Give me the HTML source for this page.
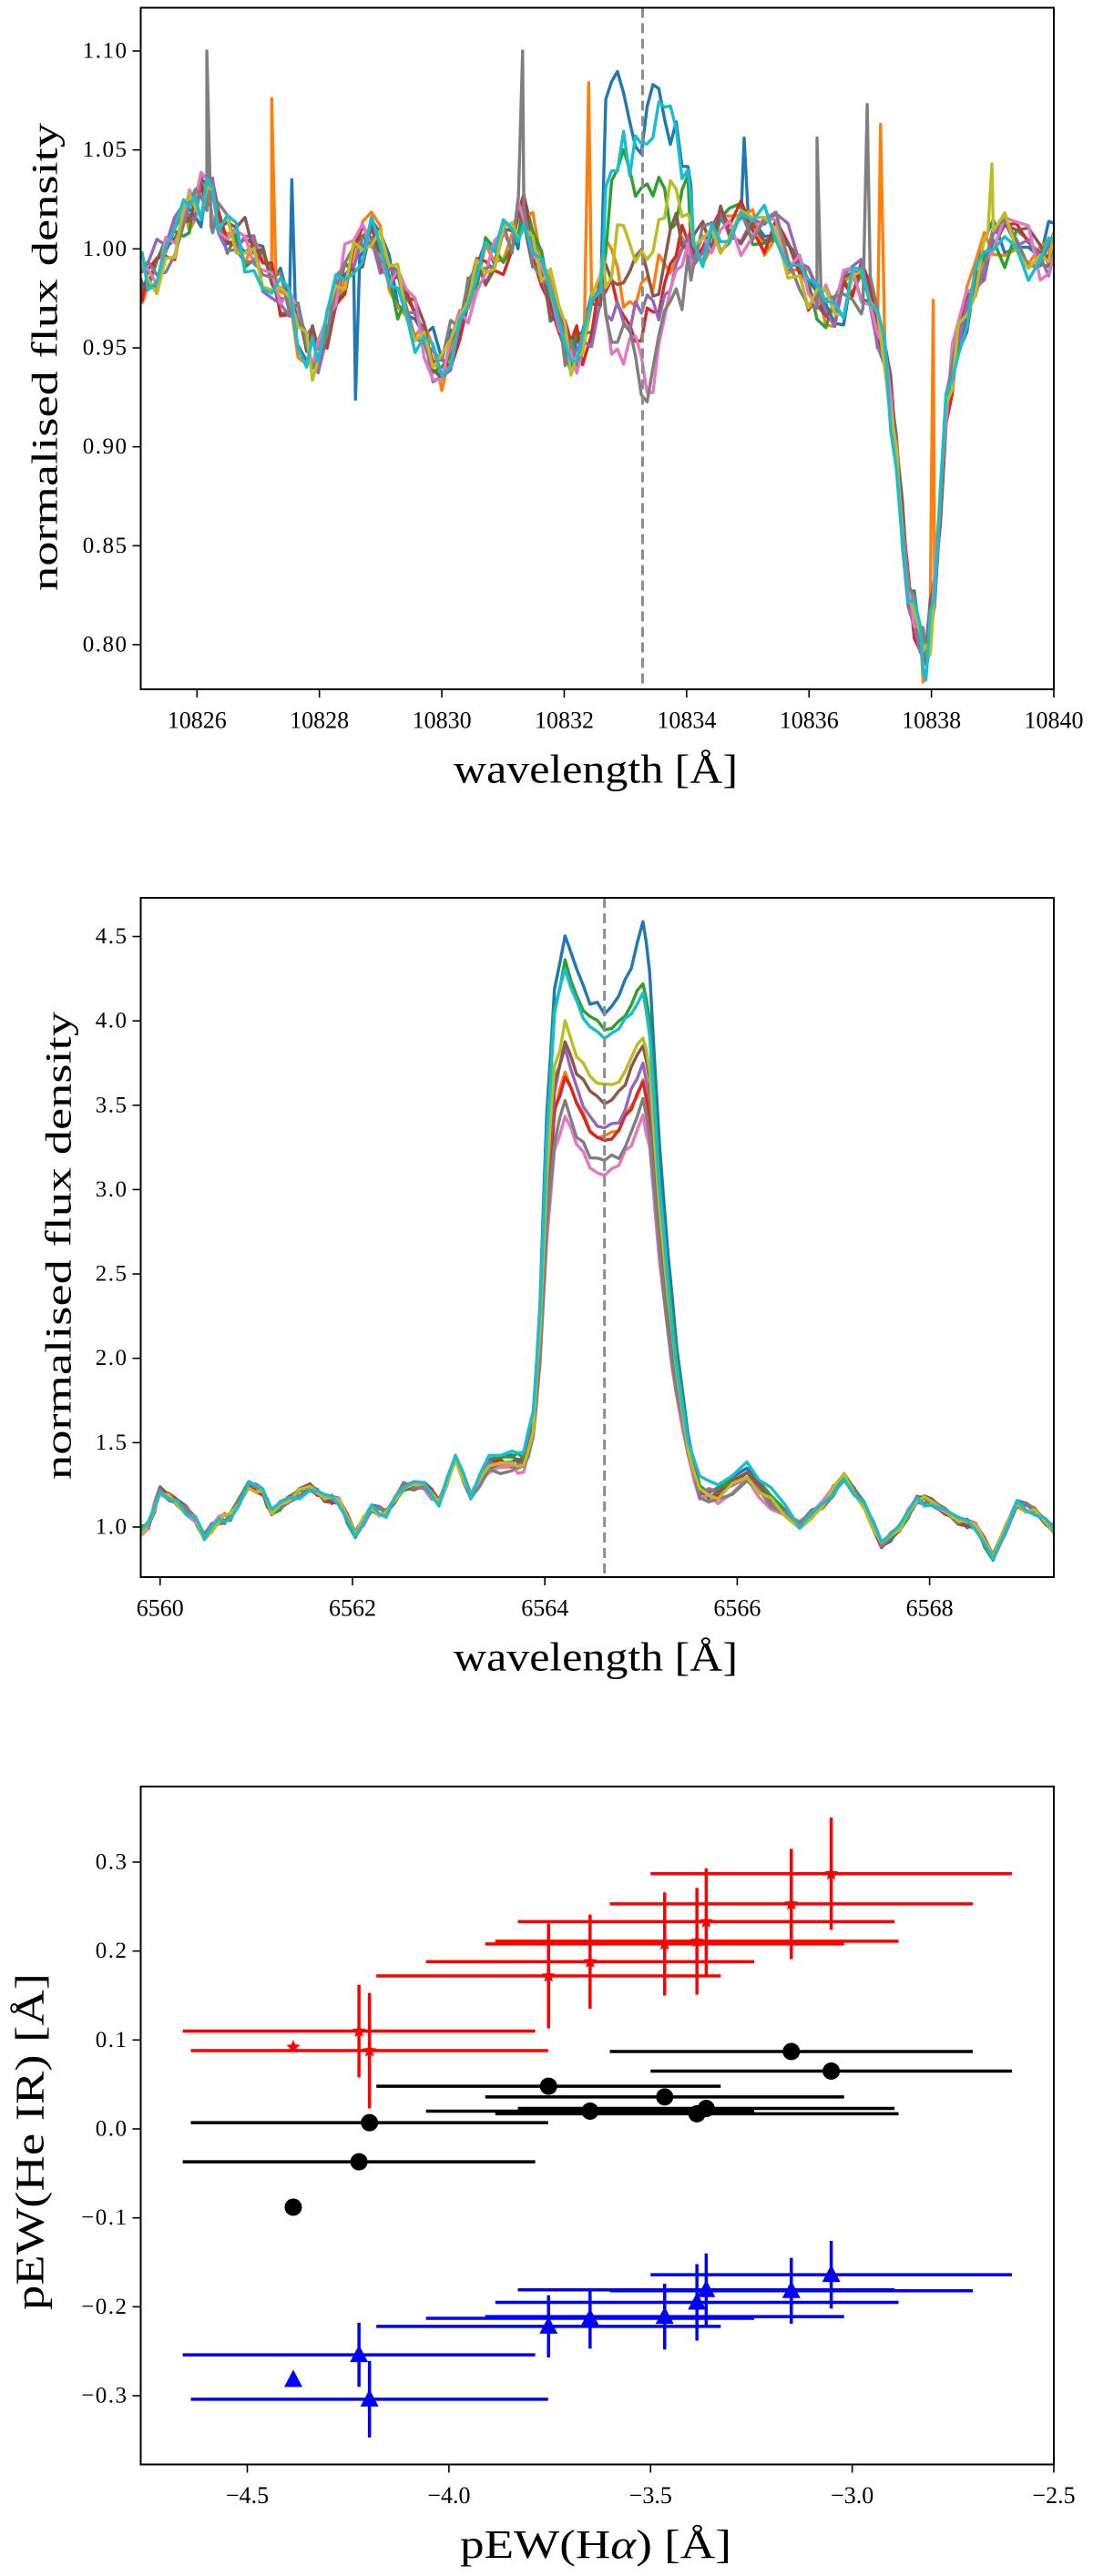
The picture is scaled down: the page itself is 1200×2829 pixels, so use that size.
<!DOCTYPE html>
<html><head><meta charset="utf-8"><style>
html,body{margin:0;padding:0;background:#fff;}
svg{display:block;font-family:"Liberation Serif",serif;}
</style></head><body>
<svg id="fig" width="1200" height="2829" viewBox="0 0 1200 2829" xmlns="http://www.w3.org/2000/svg">
<g id="p1"></g>
<g id="p2"></g>
<g id="p3"></g>
</svg>
<script>
// ---------- DATA ----------
const colors = ["#1f77b4","#ff7f0e","#2ca02c","#d62728","#9467bd","#8c564b","#e377c2","#7f7f7f","#bcbd22","#17becf"];
// Panel 1: He I IR shared continuum knots
const heLam = [10825.01,10825.20,10825.49,10825.78,10825.97,10826.16,10826.35,10826.64,10826.93,10827.22,10827.51,10827.79,10827.98,10828.27,10828.56,10828.85,10829.14,10829.42,10829.71,10830.00,10830.29,10830.57,10830.86,10831.15,10831.34,10831.63,10831.92,10832.11,10832.30,10832.59,10834.12,10834.41,10834.70,10835.08,10835.46,10835.85,10836.13,10836.42,10836.71,10837.00,10837.24,10837.43,10837.62,10837.82,10837.91,10838.05,10838.24,10838.44,10838.72,10839.01,10839.39,10839.78,10840.05];
const heBase = [0.988,0.984,0.997,1.016,1.022,1.029,1.016,1.006,0.997,0.984,0.970,0.949,0.947,0.979,0.997,1.009,0.988,0.970,0.954,0.938,0.961,0.988,0.997,1.006,1.018,0.990,0.961,0.945,0.951,0.979,1.000,1.006,1.011,1.011,1.009,0.988,0.974,0.968,0.984,0.979,0.947,0.896,0.828,0.800,0.791,0.828,0.919,0.956,0.984,1.006,1.004,0.993,1.006];
// He I core knots (around 10833 A), one array per spectrum
const heCoreLam = [10832.68,10832.87,10833.07,10833.26,10833.45,10833.64,10833.83,10834.02];
const heCore = [
 [1.082,1.080,1.073,1.052,1.075,1.075,1.057,1.048],
 [1.000,0.990,0.975,0.977,0.980,0.990,1.000,1.005],
 [0.995,1.045,1.036,1.022,1.022,1.024,1.020,1.030],
 [0.985,0.975,0.960,0.956,0.965,0.985,0.995,1.000],
 [0.975,0.970,0.963,0.962,0.965,0.980,0.990,1.000],
 [0.985,0.990,0.995,0.990,0.985,0.998,1.010,1.010],
 [0.965,0.955,0.950,0.945,0.929,0.960,0.990,1.000],
 [0.960,0.960,0.956,0.931,0.936,0.960,0.975,0.990],
 [0.990,1.005,1.009,1.002,0.997,1.018,1.027,1.020],
 [1.029,1.045,1.045,1.050,1.061,1.066,1.052,1.043]
];
// Spikes per spectrum [wavelength, flux]
const heSpikes = [
 [[10827.55,1.035],[10828.59,0.924],[10834.94,1.056]],
 [[10827.22,1.076],[10832.40,1.084],[10837.17,1.063],[10838.03,0.974]],
 [],[],[],[],[],
 [[10826.16,1.100],[10831.32,1.100],[10836.13,1.056],[10836.95,1.073]],
 [[10838.99,1.043]],
 []
];
const heJitter = [0.004,-0.006,0.009,-0.003,0.007,-0.010,0.002,0.011,-0.008,0.005,-0.004,0.012,-0.007,0.003,-0.011,0.006,0.008,-0.005,0.001,-0.009,0.010,-0.002,0.004,-0.012,0.007,-0.006,0.009,-0.001,0.005,-0.008,0.003,0.011,-0.004,-0.007,0.006,0.002,-0.010,0.008,-0.003,0.004,-0.009];
const heLine = 10833.28;
const p1XTicks = [10826,10828,10830,10832,10834,10836,10838,10840];
const p1YTicks = [0.80,0.85,0.90,0.95,1.00,1.05,1.10];

// Panel 2: H-alpha continuum knots
const haLam = [6559.76,6559.88,6560.00,6560.18,6560.37,6560.46,6560.61,6560.73,6560.92,6561.07,6561.16,6561.34,6561.56,6561.71,6561.86,6562.03,6562.20,6562.35,6562.53,6562.75,6562.90,6563.07,6563.23,6563.42,6563.66,6563.78,6565.61,6565.80,6566.10,6566.35,6566.65,6566.89,6567.11,6567.32,6567.50,6567.69,6567.87,6568.02,6568.30,6568.48,6568.66,6568.91,6569.09,6569.32];
const haBase = [0.946,1.013,1.215,1.148,1.040,0.946,1.040,1.060,1.255,1.200,1.094,1.160,1.236,1.175,1.148,0.960,1.107,1.080,1.242,1.242,1.148,1.403,1.188,1.363,1.376,1.380,1.210,1.188,1.310,1.148,1.013,1.134,1.295,1.134,0.890,1.000,1.161,1.148,1.040,1.000,0.825,1.134,1.094,0.973];
// per-spectrum emission peaks
const haLeft   = [4.52,3.69,4.36,3.69,3.83,3.89,3.44,3.51,3.98,4.32];
const haCenter = [4.05,3.31,3.95,3.30,3.35,3.52,3.08,3.15,3.61,3.90];
const haRight  = [4.57,3.63,4.24,3.63,3.77,3.86,3.43,3.52,3.91,4.16];
const haWing   = [0.03,0.00,0.03,0.00,0.00,0.00,-0.03,-0.03,0.00,0.07];
const haLine = 6564.62;
const p2XTicks = [6560,6562,6564,6566,6568];
const p2YTicks = [1.0,1.5,2.0,2.5,3.0,3.5,4.0,4.5];

// Panel 3: pEW scatter
const pewHa   = [-4.386,-4.223,-4.197,-3.753,-3.650,-3.465,-3.385,-3.362,-3.151,-3.052];
const pewHaErr= [0,0.437,0.443,0.427,0.407,0.445,0.500,0.467,0.450,0.448];
const pewRed  = [0.092,0.110,0.088,0.172,0.188,0.208,0.211,0.233,0.253,0.287];
const pewRedErr=[0,0.052,0.065,0.059,0.053,0.058,0.060,0.060,0.062,0.063];
const pewBlack= [-0.088,-0.037,0.007,0.048,0.020,0.036,0.017,0.023,0.087,0.065];
const pewBlue = [-0.282,-0.254,-0.304,-0.222,-0.213,-0.211,-0.195,-0.181,-0.182,-0.164];
const pewBlueErr=[0,0.036,0.043,0.035,0.034,0.037,0.043,0.041,0.037,0.038];
const p3XTicks = [-4.5,-4.0,-3.5,-3.0,-2.5];
const p3YTicks = [-0.3,-0.2,-0.1,0.0,0.1,0.2,0.3];

// ---------- DRAW ----------
const NS = "http://www.w3.org/2000/svg";
function mk(parent, tag, attrs, text){
  const e = document.createElementNS(NS, tag);
  for (const k in attrs) e.setAttribute(k, attrs[k]);
  if (text !== undefined) e.textContent = text;
  parent.appendChild(e);
  return e;
}
function scale(d0,d1,r0,r1){ return v => r0 + (v-d0)/(d1-d0)*(r1-r0); }
const L = 154.5, R = 1157;
function fmtMinus(s){ return s.replace('-', '\u2212'); }

function axes(g, top, bottom, sx, sy, xt, yt, xdec, ydec, xlabel, ylabel, ylx, yly, ylLen, ylSize){
  const frame = mk(g,'rect',{x:L,y:top,width:R-L,height:bottom-top,fill:'none',stroke:'#000','stroke-width':2});
  
  
  xt.forEach(v=>{
    const x = sx(v);
    const t = mk(g,'line',{x1:x,x2:x,y1:bottom,y2:bottom+9,stroke:'#000','stroke-width':1.6});
    
    
    const lb = mk(g,'text',{x:x,y:bottom+34,'text-anchor':'middle','dominant-baseline':'central','font-size':26},fmtMinus(v.toFixed(xdec)));
    
    
  });
  yt.forEach(v=>{
    const y = sy(v);
    const t = mk(g,'line',{x1:L-9,x2:L,y1:y,y2:y,stroke:'#000','stroke-width':1.6});
    
    
    const lb = mk(g,'text',{x:L-14,y:y,'text-anchor':'end','dominant-baseline':'central','font-size':25,'letter-spacing':1.5},fmtMinus(v.toFixed(ydec)));
    
    
  });
  const xl = mk(g,'text',{x:654,y:bottom+88,'text-anchor':'middle','dominant-baseline':'central','font-size':44,lengthAdjust:'spacingAndGlyphs'});
  xl.innerHTML = xlabel.html;
  xl.setAttribute('textLength', xlabel.len);
  
  
  const yl = mk(g,'text',{x:ylx,y:yly,'text-anchor':'middle','dominant-baseline':'central','font-size':ylSize,transform:`rotate(-90 ${ylx} ${yly})`,textLength:ylLen,lengthAdjust:'spacingAndGlyphs'});
  yl.innerHTML = ylabel;
  
  
}
function pathFrom(pts, sx, sy){
  return pts.map((p,i)=>(i?'L':'M')+sx(p[0]).toFixed(1)+' '+sy(p[1]).toFixed(1)).join(' ');
}
function interp(pts, x){
  for (let i=0;i<pts.length-1;i++){
    if (x>=pts[i][0] && x<=pts[i+1][0]){
      const t=(x-pts[i][0])/(pts[i+1][0]-pts[i][0]);
      return pts[i][1]+t*(pts[i+1][1]-pts[i][1]);
    }
  }
  return pts[pts.length-1][1];
}

// Panel 1
(function(){
  const g = document.getElementById('p1');
  const top=8.5,bottom=757;
  const sx = scale(10826,10840,216.3,1157);
  const sy = scale(0.80,1.10,708,56);
  const clip = mk(g,'clipPath',{id:'c1'}); mk(clip,'rect',{x:L,y:top,width:R-L,height:bottom-top});
  const lines = mk(g,'g',{'clip-path':'url(#c1)'});
  
  
  for (let s=0;s<10;s++){
    let pts=[];
    heLam.forEach((l,i)=>pts.push([l,heBase[i]]));
    heCoreLam.forEach((l,i)=>pts.push([l,heCore[s][i]]));
    pts.sort((a,b)=>a[0]-b[0]);
    let noisy=[];
    for (let i=0;i<pts.length;i++){
      const j = heJitter[(i*3+s*7)%heJitter.length];
      noisy.push([pts[i][0], pts[i][1]+j*0.8]);
      if (i<pts.length-1){
        const mx=(pts[i][0]+pts[i+1][0])/2, my=(pts[i][1]+pts[i+1][1])/2;
        noisy.push([mx, my+heJitter[(i*5+s*11+3)%heJitter.length]*1.2]);
      }
    }
    heSpikes[s].forEach(sp=>{
      const b1=interp(noisy,sp[0]-0.07), b2=interp(noisy,sp[0]+0.07);
      noisy.push([sp[0]-0.07,b1],[sp[0],sp[1]],[sp[0]+0.07,b2]);
    });
    noisy.sort((a,b)=>a[0]-b[0]);
    const p = mk(lines,'path',{d:pathFrom(noisy,sx,sy),fill:'none',stroke:colors[s],'stroke-width':3.4,'stroke-linejoin':'round'});
    
    
  }
  const dl = mk(g,'line',{x1:sx(heLine),x2:sx(heLine),y1:top,y2:bottom,stroke:'#8c8c8c','stroke-width':3,'stroke-dasharray':'11 6'});
  
  
  axes(g,top,bottom,sx,sy,p1XTicks,p1YTicks,0,2,{html:'wavelength [Å]',len:312},'normalised flux density',49,392,514,40);
})();

// Panel 2
(function(){
  const g = document.getElementById('p2');
  const top=986,bottom=1732;
  const sx = scale(6560,6568,175.8,1020.6);
  const sy = scale(1.0,4.5,1677,1028.5);
  const clip = mk(g,'clipPath',{id:'c2'}); mk(clip,'rect',{x:L,y:top,width:R-L,height:bottom-top});
  const lines = mk(g,'g',{'clip-path':'url(#c2)'});
  
  
  for (let s=0;s<10;s++){
    const Lp=haLeft[s], C=haCenter[s], Rp=haRight[s];
    let pts=[];
    haLam.forEach((l,i)=>{
      const w = (l>6563.3 && l<6566.5) ? haWing[s] : 0;
      pts.push([l,haBase[i]+w]);
    });
    const c0=1.38+haWing[s];
    const core=[
      [6563.88,c0+0.08*(Lp-c0)],[6563.95,c0+0.3*(Lp-c0)],[6564.02,c0+0.65*(Lp-c0)],[6564.10,c0+0.9*(Lp-c0)],
      [6564.21,Lp],[6564.33,Lp-0.5*(Lp-C)],[6564.47,C+0.15*(Lp-C)],[6564.62,C],
      [6564.77,C+0.15*(Rp-C)],[6564.90,C+0.55*(Rp-C)],[6565.02,Rp],
      [6565.09,1.2+0.92*(Rp-1.2)],[6565.19,1.2+0.62*(Rp-1.2)],[6565.28,1.2+0.42*(Rp-1.2)],
      [6565.37,1.2+0.26*(Rp-1.2)],[6565.49,1.2+0.10*(Rp-1.2)]
    ];
    pts = pts.concat(core).sort((a,b)=>a[0]-b[0]);
    let noisy=[];
    for (let i=0;i<pts.length;i++){
      noisy.push([pts[i][0], pts[i][1]+heJitter[(i*3+s*5)%heJitter.length]*2]);
      if (i<pts.length-1){
        const mx=(pts[i][0]+pts[i+1][0])/2, my=(pts[i][1]+pts[i+1][1])/2;
        noisy.push([mx,my+heJitter[(i*7+s*3+1)%heJitter.length]*2.5]);
      }
    }
    const p = mk(lines,'path',{d:pathFrom(noisy,sx,sy),fill:'none',stroke:colors[s],'stroke-width':3.4,'stroke-linejoin':'round'});
    
    
  }
  const dl = mk(g,'line',{x1:sx(haLine),x2:sx(haLine),y1:top,y2:bottom,stroke:'#8c8c8c','stroke-width':3,'stroke-dasharray':'11 6'});
  
  
  axes(g,top,bottom,sx,sy,p2XTicks,p2YTicks,0,1,{html:'wavelength [Å]',len:312},'normalised flux density',64,1368,514,40);
})();

// Panel 3
(function(){
  const g = document.getElementById('p3');
  const top=1962,bottom=2706.5;
  const sx = scale(-4.5,-2.5,271.5,1157);
  const sy = scale(-0.3,0.3,2631,2045);
  function star(cx,cy,r){
    let pts=[];
    for(let k=0;k<10;k++){
      const a=-Math.PI/2+k*Math.PI/5, rr=k%2?r*0.45:r;
      pts.push((cx+rr*Math.cos(a)).toFixed(1)+','+(cy+rr*Math.sin(a)).toFixed(1));
    }
    return pts.join(' ');
  }
  function series(vals, errs, color, marker, name){
    const grp = mk(g,'g',{});
    
    
    pewHa.forEach((xv,i)=>{
      const x=sx(xv), y=sy(vals[i]);
      if (pewHaErr[i]>0){
        const e = mk(grp,'line',{x1:sx(xv-pewHaErr[i]),x2:sx(xv+pewHaErr[i]),y1:y,y2:y,stroke:color,'stroke-width':3.5});
        
        
      }
      if (errs && errs[i]>0){
        const e = mk(grp,'line',{x1:x,x2:x,y1:sy(vals[i]-errs[i]),y2:sy(vals[i]+errs[i]),stroke:color,'stroke-width':3.5});
        
        
      }
    });
    pewHa.forEach((xv,i)=>{
      const x=sx(xv), y=sy(vals[i]);
      let m;
      if (marker==='circle') m = mk(grp,'circle',{cx:x,cy:y,r:9.5,fill:color});
      else if (marker==='tri') m = mk(grp,'polygon',{points:`${x},${y-11} ${x-10},${y+8} ${x+10},${y+8}`,fill:color});
      else m = mk(grp,'polygon',{points:star(x,y,8),fill:color});
      
      
    });
  }
  series(pewRed,pewRedErr,'#ff0000','star','red');
  series(pewBlack,null,'#000000','circle','black');
  series(pewBlue,pewBlueErr,'#0000ff','tri','blue');
  axes(g,top,bottom,sx,sy,p3XTicks,p3YTicks,1,1,{html:'pEW(H<tspan font-style="italic">α</tspan>) [Å]',len:298},'pEW(He IR) [Å]',33,2352,370,44);
})();
</script>
</body></html>
